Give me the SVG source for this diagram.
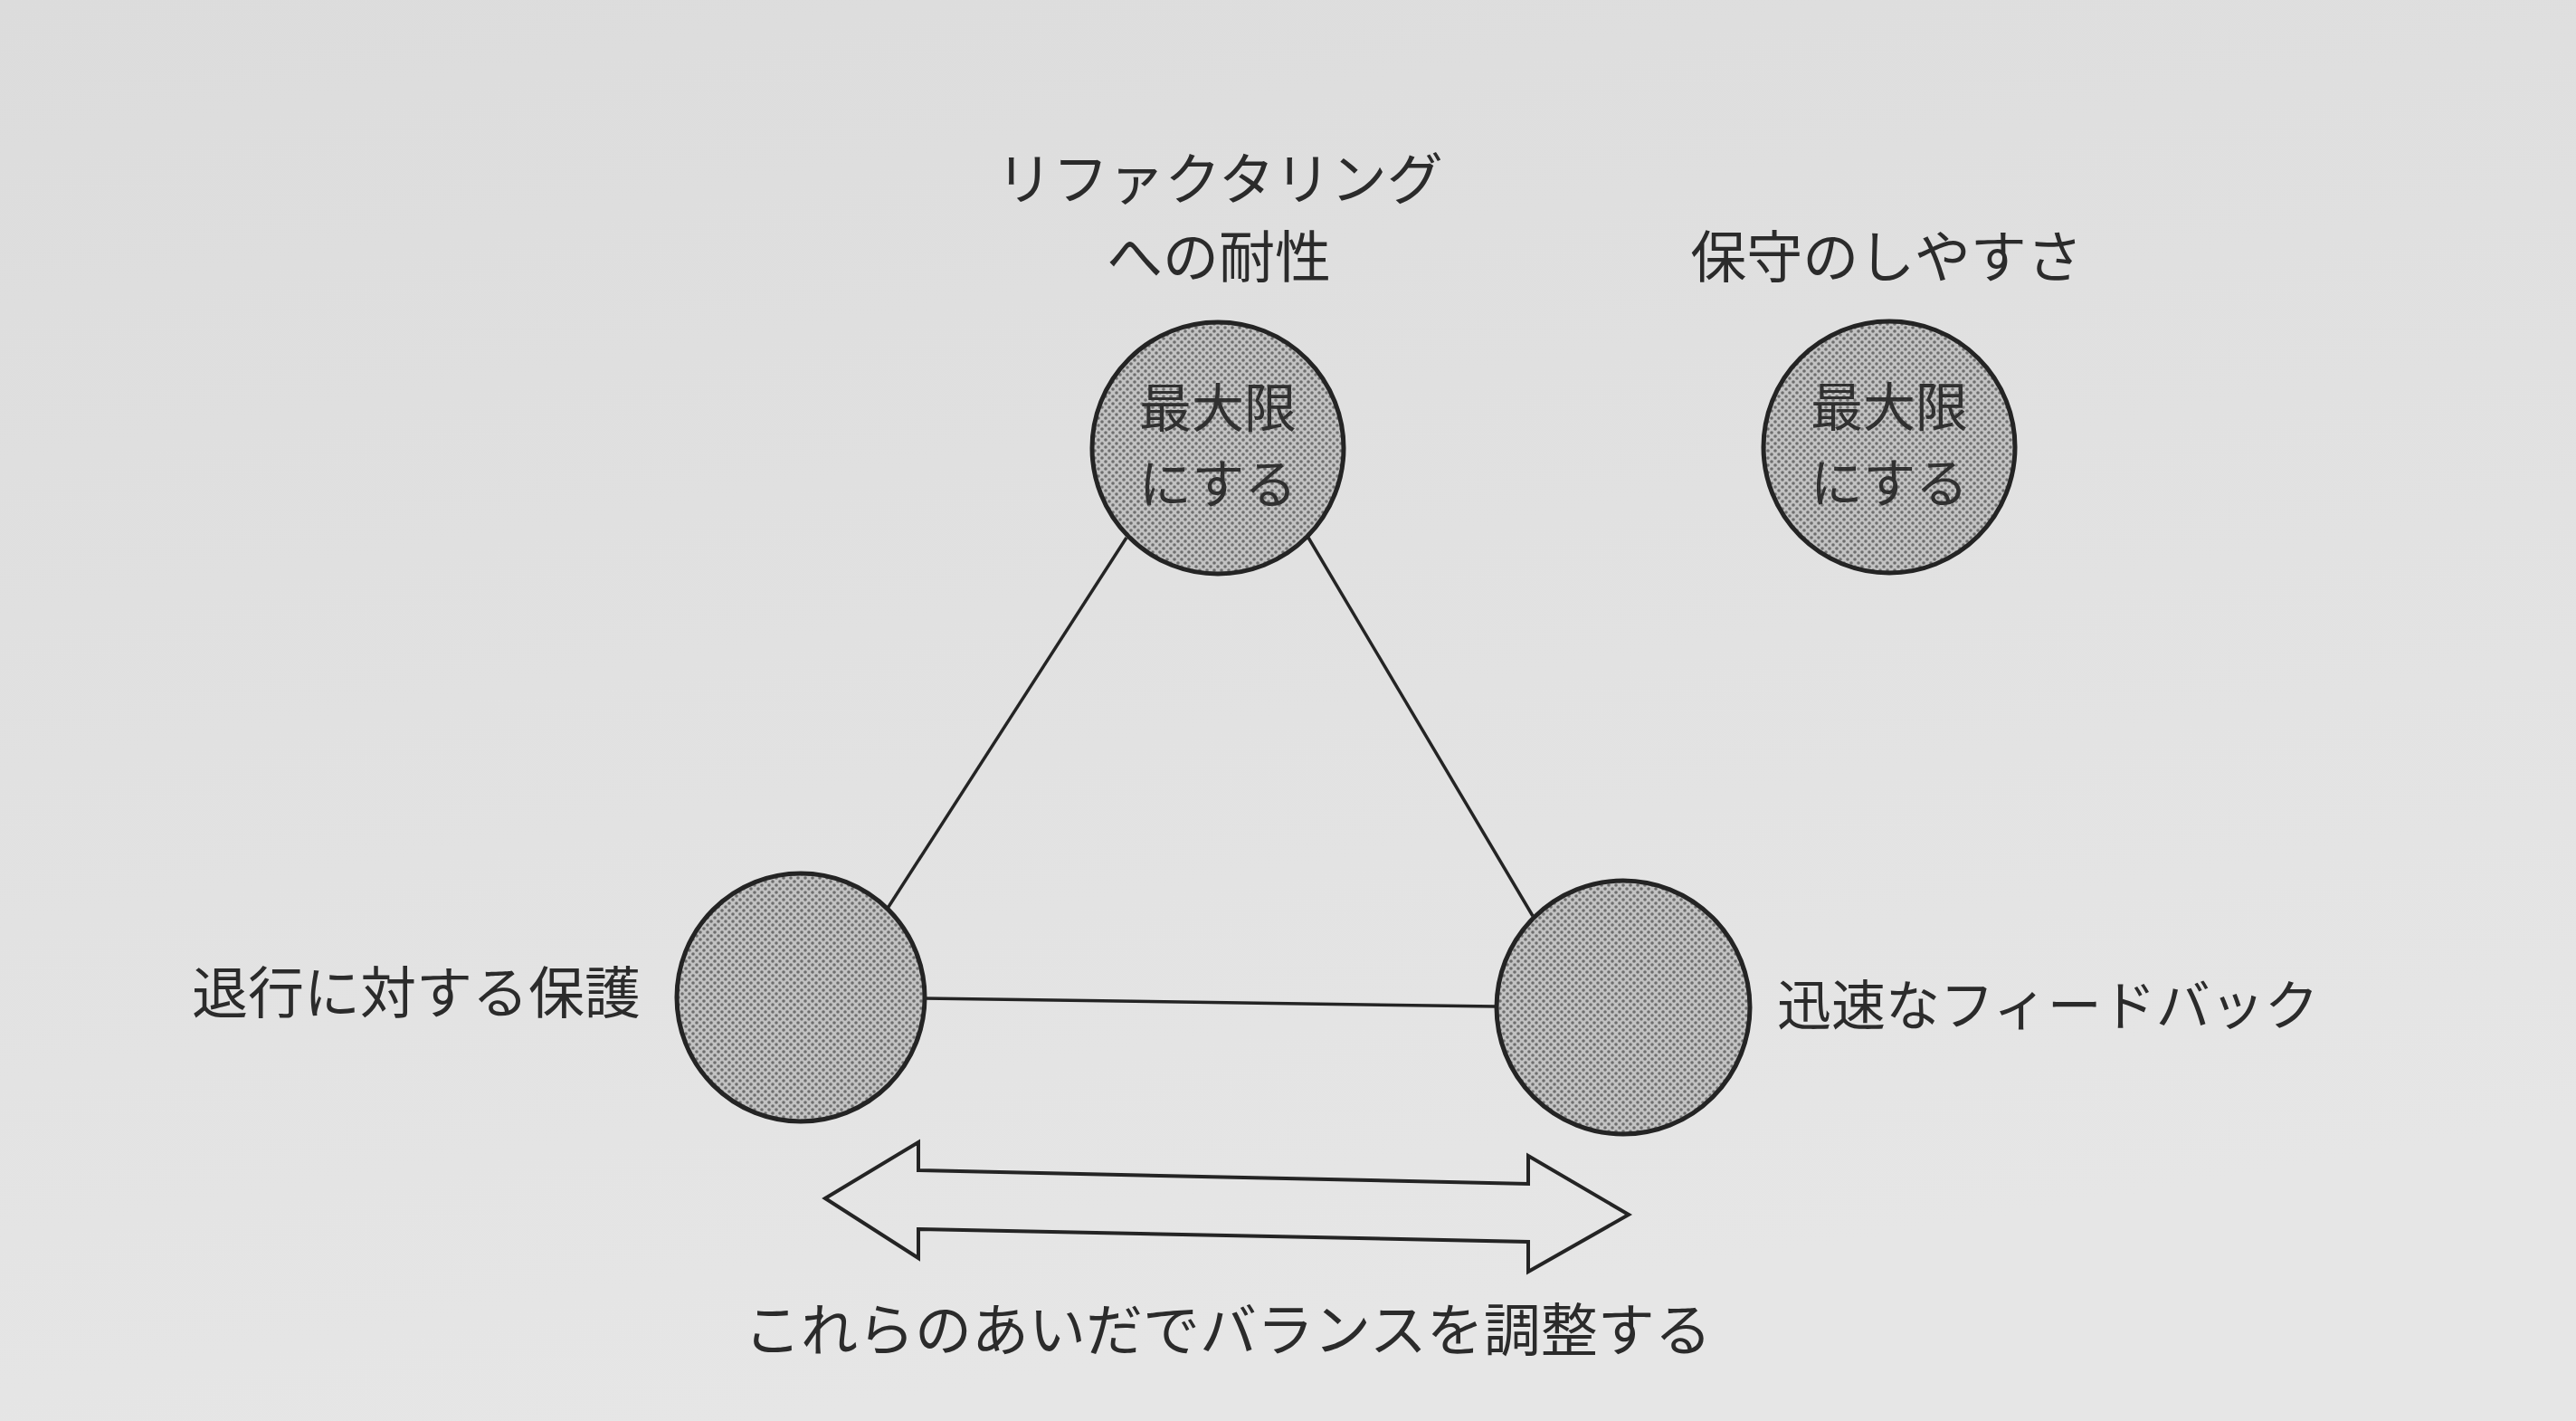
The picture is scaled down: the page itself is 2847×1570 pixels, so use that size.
<svg xmlns="http://www.w3.org/2000/svg" width="2847" height="1570" viewBox="0 0 2847 1570">
  <defs>
    <linearGradient id="bg" x1="0" y1="0" x2="0.3" y2="1">
      <stop offset="0" stop-color="#dcdcdc"/>
      <stop offset="1" stop-color="#e6e6e6"/>
    </linearGradient>
    <pattern id="dots" width="8" height="8" patternUnits="userSpaceOnUse">
      <rect width="8" height="8" fill="#c2c2c2"/>
      <circle cx="2" cy="2" r="1.8" fill="#6e6e6e"/>
      <circle cx="6" cy="6" r="1.8" fill="#6e6e6e"/>
    </pattern>
  </defs>
  <style>
    .lbl { font-family: "Noto Sans CJK JP", "Noto Sans", sans-serif; font-size: 62px; fill: #2b2b2b; }
    .in { font-family: "Noto Sans CJK JP", "Noto Sans", sans-serif; font-size: 58px; fill: #303030; text-anchor: middle; }
    .node { fill: url(#dots); stroke: #242424; stroke-width: 5; }
    .edge { stroke: #242424; stroke-width: 3.5; fill: none; }
  </style>
  <rect width="2847" height="1570" fill="url(#bg)"/>

  <g id="connectors">
    <line class="edge" x1="1245" y1="594" x2="980" y2="1005"/>
    <line class="edge" x1="1446" y1="594" x2="1694" y2="1012"/>
    <line class="edge" x1="1021" y1="1103" x2="1654" y2="1112"/>
  </g>

  <g id="node-refactoring">
    <text class="lbl" x="1348" y="221" text-anchor="middle">リファクタリング</text>
    <text class="lbl" x="1347" y="307" text-anchor="middle">への耐性</text>
    <circle class="node" cx="1346" cy="495" r="139"/>
    <text class="in" x="1346" y="472">最大限</text>
    <text class="in" x="1346" y="556">にする</text>
  </g>

  <g id="node-maintainability">
    <text class="lbl" x="2085" y="307" text-anchor="middle">保守のしやすさ</text>
    <circle class="node" cx="2088" cy="494" r="139"/>
    <text class="in" x="2088" y="471">最大限</text>
    <text class="in" x="2088" y="555">にする</text>
  </g>

  <g id="node-regression">
    <text class="lbl" x="708" y="1120" text-anchor="end">退行に対する保護</text>
    <circle class="node" cx="885" cy="1102" r="137"/>
  </g>

  <g id="node-feedback">
    <circle class="node" cx="1794" cy="1113" r="140"/>
    <text class="lbl" x="1964" y="1133" style="font-size:60px">迅速なフィードバック</text>
  </g>

  <g id="balance">
    <polygon points="912,1324 1015,1262 1015,1293 1689,1308 1689,1277 1800,1342 1689,1405 1689,1372 1015,1358 1015,1390" fill="none" stroke="#242424" stroke-width="4" stroke-linejoin="miter"/>
    <text class="lbl" x="1357" y="1492" text-anchor="middle" style="font-size:63px">これらのあいだでバランスを調整する</text>
  </g>
</svg>
